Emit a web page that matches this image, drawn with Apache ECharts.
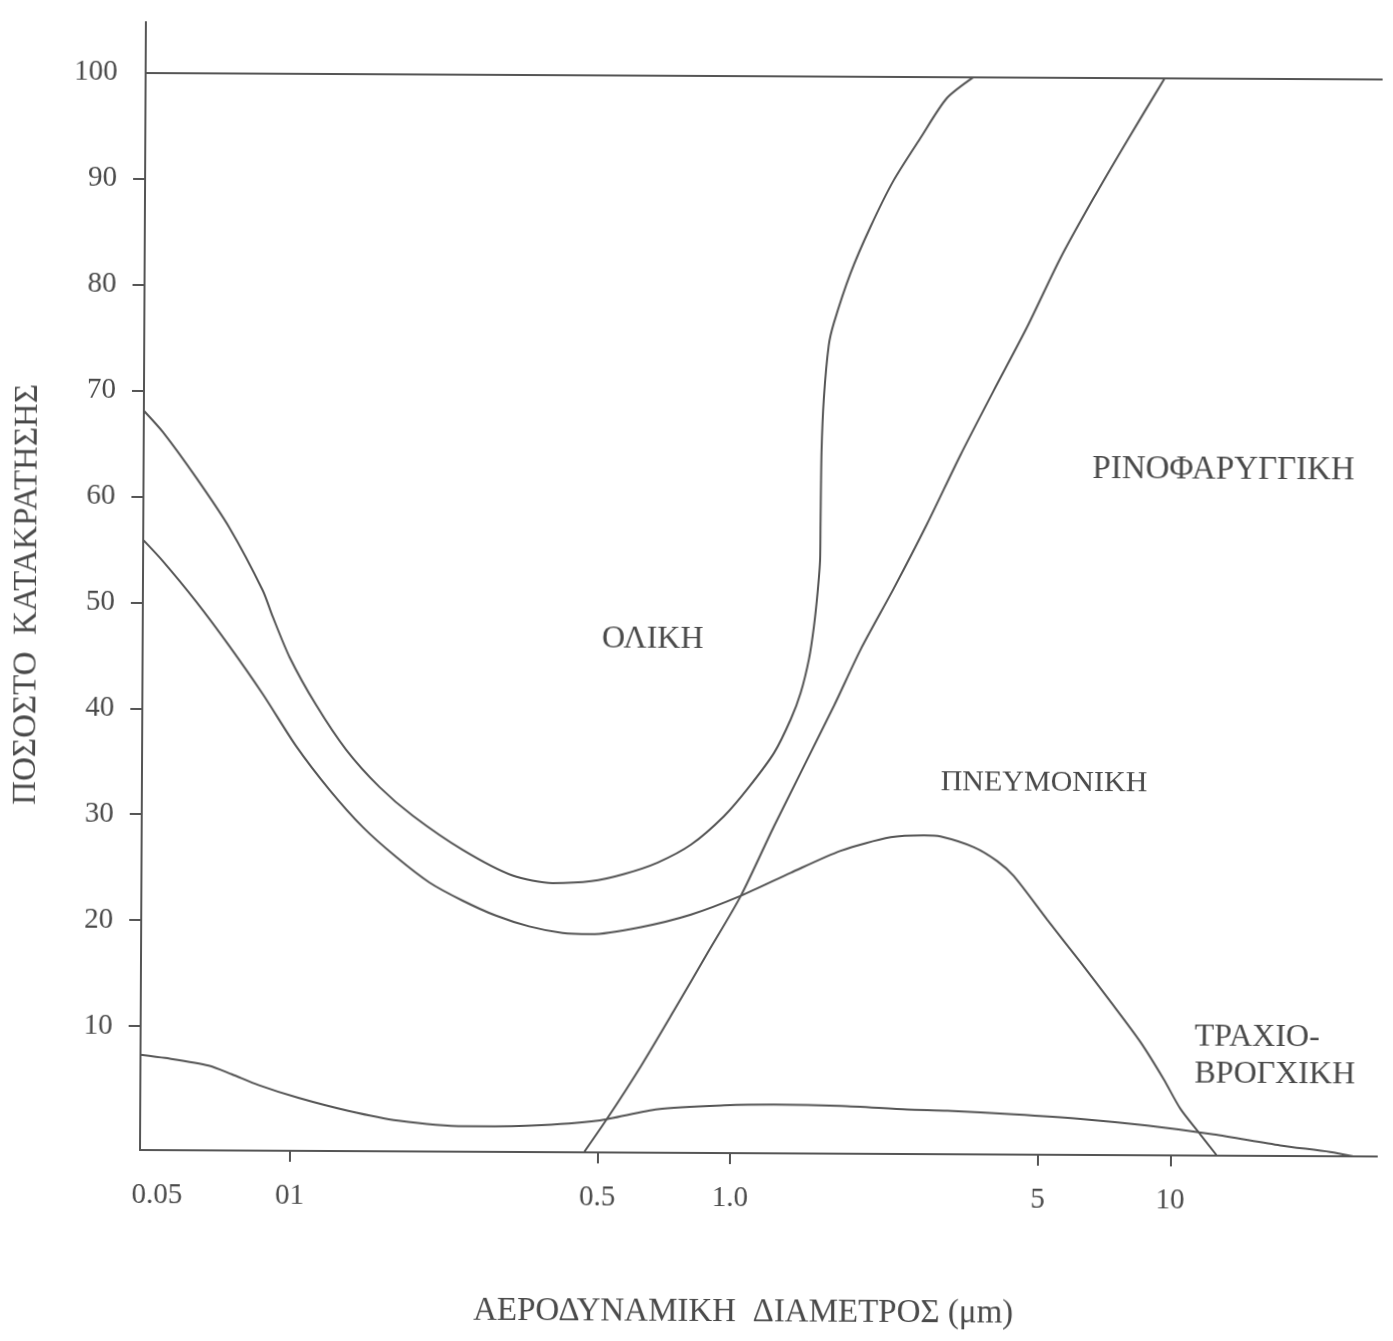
<!DOCTYPE html>
<html>
<head>
<meta charset="utf-8">
<script src="https://cdn.jsdelivr.net/npm/echarts@6/dist/echarts.min.js"></script>
<style>
html, body { margin: 0; padding: 0; background: #ffffff; overflow: hidden; }
#chart { width: 1393px; height: 1341px; transform: rotate(0.3deg); transform-origin: 138px 1150px; }
</style>
</head>
<body>
<div id="chart"></div>
<script>
// ---- axis ticks ----
const xTickValues = [0.05, 0.1, 0.5, 1, 5, 10];
const xTickLabels = ['0.05', '01', '0.5', '1.0', '5', '10'];
const yTickValues = [10, 20, 30, 40, 50, 60, 70, 80, 90, 100];
const xAxisMinDiam = 0.0457;
const xAxisMaxDiam = 29.47;
const yAxisMin = -1.7;
const yAxisMax = 104.8;

// ---- ΟΛΙΚΗ (total) ----
const totalDiam = [0.0457, 0.0505, 0.0602, 0.0717, 0.0855, 0.0902, 0.0986, 0.1134, 0.1328, 0.1582,
  0.1885, 0.2449, 0.3182, 0.3924, 0.4802, 0.5702, 0.6798, 0.8082, 0.9596, 1.085,
  1.245, 1.358, 1.429, 1.491, 1.529, 1.557, 1.576, 1.578, 1.583, 1.600,
  1.639, 1.682, 1.832, 2.031, 2.290, 2.630, 3.018, 3.467];
const totalPct = [68.1, 66.1, 61.8, 57.1, 51.2, 48.7, 44.9, 40.4, 36.2, 32.7,
  30.0, 26.8, 24.4, 23.7, 23.9, 24.6, 25.7, 27.4, 30.1, 32.7,
  36.1, 39.3, 41.8, 45.0, 48.1, 51.3, 54.4, 57.8, 64.5, 69.6,
  74.6, 76.7, 81.4, 85.8, 90.2, 94.2, 98.0, 100];

// ---- ΠΝΕΥΜΟΝΙΚΗ (pulmonary) ----
const pulmDiam = [0.0457, 0.0507, 0.0604, 0.0720, 0.0858, 0.1023, 0.1219, 0.1452, 0.1730, 0.2061,
  0.2454, 0.2922, 0.3477, 0.4140, 0.4809, 0.6241, 0.8099, 1.051, 1.364, 1.769,
  2.296, 2.733, 2.980, 3.549, 4.011, 4.376, 5.218, 6.216, 7.405, 8.523,
  9.636, 10.53, 11.69, 12.76];
const pulmPct = [55.9, 53.9, 50.1, 45.9, 41.4, 36.5, 32.4, 28.9, 26.1, 23.7,
  22.0, 20.6, 19.6, 19.0, 18.9, 19.6, 20.8, 22.6, 24.8, 26.9,
  28.2, 28.4, 28.3, 27.3, 26.0, 24.6, 20.5, 16.5, 12.4, 9.0,
  5.5, 2.7, 0.3, -1.7];

// ---- ΤΡΑΧΙΟ-ΒΡΟΓΧΙΚΗ (tracheobronchial) ----
const trachDiam = [0.0457, 0.0520, 0.0653, 0.0737, 0.0847, 0.1045, 0.1357, 0.1762, 0.2496, 0.3536,
  0.5006, 0.6849, 0.9691, 1.258, 1.784, 2.526, 3.112, 4.409, 6.244, 8.851,
  12.53, 17.76, 23.06, 26.04];
const trachPct = [7.3, 7.0, 6.3, 5.5, 4.5, 3.3, 2.1, 1.2, 0.7, 0.8,
  1.3, 2.4, 2.8, 2.9, 2.8, 2.5, 2.4, 2.1, 1.7, 1.1,
  0.3, -0.7, -1.3, -1.7];

// ---- ΡΙΝΟΦΑΡΥΓΓΙΚΗ (nasopharyngeal) ----
const nasoDiam = [0.4659, 0.5275, 0.6267, 0.7446, 0.8848, 1.051, 1.248, 1.702, 1.952,
  2.319, 2.755, 3.272, 3.886, 4.618, 5.483, 6.512, 7.739, 9.432];
const nasoPct = [-1.7, 1.6, 6.5, 11.8, 17.2, 22.6, 29.2, 40.6, 45.9,
  51.7, 57.8, 64.3, 70.4, 76.4, 82.9, 88.6, 94.0, 100];

// ---- build ----
const LOG = Math.log10;
function pairs(ds, vs) { return ds.map((d, i) => [LOG(d), vs[i]]); }

const FONT = "'Liberation Serif', 'Times New Roman', serif";
const INK = '#4a4a4a';
const LINE = '#555555';
const lineStyle = { color: LINE, width: 2 };

function curve(name, ds, vs, extra) {
  return Object.assign({
    name: name,
    type: 'line',
    data: pairs(ds, vs),
    showSymbol: false,
    symbol: 'none',
    smooth: 0.25,
    lineStyle: lineStyle,
    silent: true
  }, extra || {});
}

const chart = echarts.init(document.getElementById('chart'), null, { renderer: 'canvas' });

const option = {
  backgroundColor: '#ffffff',
  animation: false,
  grid: { left: 138, right: 16, top: 22, bottom: 191, containLabel: false },
  xAxis: {
    type: 'value',
    min: LOG(xAxisMinDiam),
    max: LOG(xAxisMaxDiam),
    name: 'ΑΕΡΟΔΥΝΑΜΙΚΗ  ΔΙΑΜΕΤΡΟΣ (μm)',
    nameLocation: 'middle',
    nameGap: 143,
    nameTextStyle: { fontFamily: FONT, fontSize: 33, color: INK, padding: [0, 29, 0, 0] },
    axisLine: { show: true, onZero: false, lineStyle: lineStyle },
    axisTick: { show: true, inside: false, length: 11, lineStyle: lineStyle,
      customValues: xTickValues.slice(1).map(LOG) },
    axisLabel: {
      customValues: xTickValues.map(LOG),
      formatter: function (v) {
        const i = xTickValues.findIndex(t => Math.abs(LOG(t) - v) < 1e-6);
        return i >= 0 ? xTickLabels[i] : '';
      },
      margin: 31, fontFamily: FONT, fontSize: 29, color: INK
    },
    splitLine: { show: false }
  },
  yAxis: {
    type: 'value',
    min: yAxisMin,
    max: yAxisMax,
    name: 'ΠΟΣΟΣΤΟ  ΚΑΤΑΚΡΑΤΗΣΗΣ',
    nameLocation: 'middle',
    nameGap: 99,
    nameRotate: 90,
    nameTextStyle: { fontFamily: FONT, fontSize: 33, color: INK, padding: [0, 18, 0, 0] },
    axisLine: { show: true, onZero: false, lineStyle: lineStyle },
    axisTick: { show: true, inside: false, length: 12, lineStyle: lineStyle,
      customValues: yTickValues.filter(v => v < 100) },
    axisLabel: { customValues: yTickValues, margin: 28, fontFamily: FONT, fontSize: 29, color: INK },
    splitLine: { show: false }
  },
  series: [
    curve('ΟΛΙΚΗ', totalDiam, totalPct, {
      markLine: {
        silent: true, symbol: 'none', label: { show: false },
        lineStyle: { color: LINE, width: 2, type: 'solid' },
        data: [{ yAxis: 100 }]
      }
    }),
    curve('ΠΝΕΥΜΟΝΙΚΗ', pulmDiam, pulmPct),
    curve('ΤΡΑΧΙΟ-ΒΡΟΓΧΙΚΗ', trachDiam, trachPct),
    curve('ΡΙΝΟΦΑΡΥΓΓΙΚΗ', nasoDiam, nasoPct)
  ],
  graphic: [
    { type: 'text', silent: true, style: { text: 'ΟΛΙΚΗ', x: 650, y: 637, align: 'center', verticalAlign: 'middle', fontFamily: FONT, fontSize: 32, fill: INK } },
    { type: 'text', silent: true, style: { text: 'ΡΙΝΟΦΑΡΥΓΓΙΚΗ', x: 1220, y: 464, align: 'center', verticalAlign: 'middle', fontFamily: FONT, fontSize: 33, fill: INK } },
    { type: 'text', silent: true, style: { text: 'ΠΝΕΥΜΟΝΙΚΗ', x: 1042, y: 778, align: 'center', verticalAlign: 'middle', fontFamily: FONT, fontSize: 30, fill: INK } },
    { type: 'text', silent: true, style: { text: 'ΤΡΑΧΙΟ-', x: 1194, y: 1032, align: 'left', verticalAlign: 'middle', fontFamily: FONT, fontSize: 32, fill: INK } },
    { type: 'text', silent: true, style: { text: 'ΒΡΟΓΧΙΚΗ', x: 1194, y: 1069, align: 'left', verticalAlign: 'middle', fontFamily: FONT, fontSize: 32, fill: INK } }
  ]
};

chart.setOption(option);
</script>
</body>
</html>
